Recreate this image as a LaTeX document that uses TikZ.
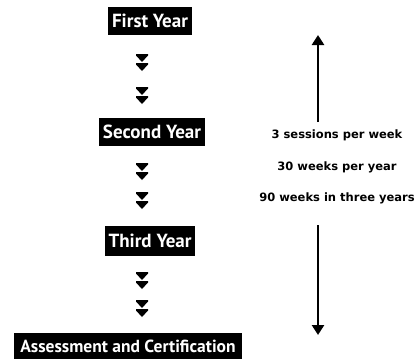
\documentclass[tikz,border=0pt]{standalone}
\usepackage{fontspec}
\setmainfont{PT Sans}
\newfontfamily\infofont{DejaVu Sans}
\usetikzlibrary{arrows.meta}
\tikzset{
  yearbox/.style={fill=black, text=white, font=\bfseries\fontsize{19}{21}\selectfont, inner xsep=4pt, inner ysep=0pt, minimum height=28pt},
  info/.style={font=\infofont\bfseries\fontsize{11.5}{13}\selectfont, inner sep=0pt},
  bigarrow/.style={line width=2.8pt, -{Triangle[length=10pt,width=12pt]}},
  chev/.pic={
    \fill (-6,-9) -- (6,-9) -- (6,-7.5) -- (0,-1) -- (-6,-7.5) -- cycle;
    \fill (-6,0) -- (6,0) -- (6,1.5) -- (0,8) -- (-6,1.5) -- cycle;
  }
}
\begin{document}
\begin{tikzpicture}[x=1pt,y=-1pt]
\useasboundingbox (0,0) rectangle (417,359);
\node[yearbox] (y1) at (150,21) {First Year};
\node[yearbox] (y2) at (152,132) {Second Year};
\node[yearbox, minimum height=30pt] (y3) at (150,241) {Third Year};
\node[yearbox, minimum height=26pt, inner xsep=6pt, font=\bfseries\fontsize{17.5}{19}\selectfont] (y4) at (128,346) {Assessment and Certification};
\foreach \yy in {63,96,172,201,281,309} \pic at (142,\yy) {chev};
\node[info] (t1) at (337,135) {3 sessions per week};
\node[info] (t2) at (337,167) {30 weeks per year};
\node[info] (t3) at (337,198) {90 weeks in three years};
\coordinate (a1s) at (318,122);
\coordinate (a1e) at (318,35);
\coordinate (a2s) at (318,225);
\coordinate (a2e) at (318,335);
\draw[bigarrow] (a1s) -- (a1e);
\draw[bigarrow] (a2s) -- (a2e);
\end{tikzpicture}
\end{document}
